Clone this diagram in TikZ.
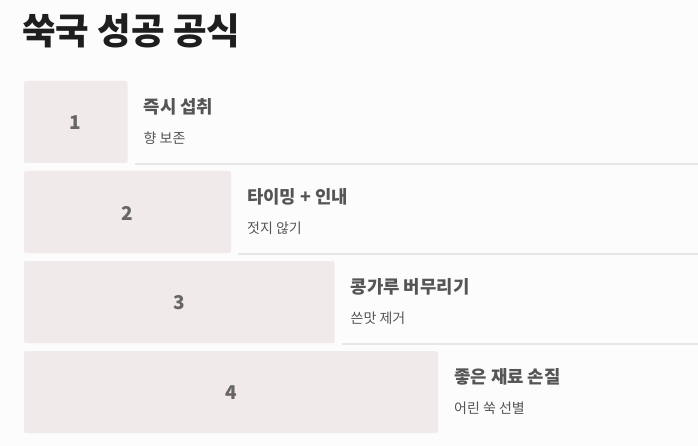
\documentclass[tikz,border=0pt]{standalone}
\usepackage{fontspec}
\setmainfont{Noto Sans CJK KR}
\definecolor{bg}{HTML}{FCFCFC}
\definecolor{barfill}{HTML}{F0EAEA}
\definecolor{rule}{HTML}{E6E6E6}
\definecolor{ink}{HTML}{1E1E1E}
\definecolor{soft}{HTML}{555555}
\definecolor{numink}{HTML}{666666}
\tikzset{
	bar/.style={fill=barfill,draw=none,rounded corners=2pt},
	head/.style={anchor=west,inner sep=0pt,text=soft,font=\fontsize{17.8}{20}\selectfont\bfseries},
	note/.style={anchor=west,inner sep=0pt,text=soft,font=\fontsize{14}{16}\selectfont},
	num/.style={inner sep=0pt,text=numink,font=\fontsize{19}{21}\selectfont\bfseries}
}
\begin{document}
\begin{tikzpicture}[x=1pt,y=-1pt]
	\useasboundingbox[fill=bg] (0,0) rectangle (698,446);
	\node[anchor=west,inner sep=0pt,text=ink,font=\fontsize{36.5}{40}\selectfont\bfseries] (title) at (22,31) {쑥국 성공 공식};
	\foreach \i/\t/\s in {1/즉시 섭취/향 보존,2/타이밍 + 인내/젓지 않기,3/콩가루 버무리기/쓴맛 제거,4/좋은 재료 손질/어린 쑥 선별}{
		\pgfmathsetmacro{\top}{81+90*(\i-1)}
		\pgfmathsetmacro{\right}{24+103.5*\i}
		\draw[bar] (24,\top) rectangle (\right,\top+82);
		\node[num] (num\i) at ({(24+\right)/2},\top+42) {\i};
		\node[head] (head\i) at (\right+16,\top+26) {\t};
		\node[note] (note\i) at (\right+16,\top+57) {\s};
		\ifnum\i<4
			\draw[rule,line width=2pt] (\right+7,\top+83) -- (698,\top+83);
		\fi
	}
\end{tikzpicture}
\end{document}
